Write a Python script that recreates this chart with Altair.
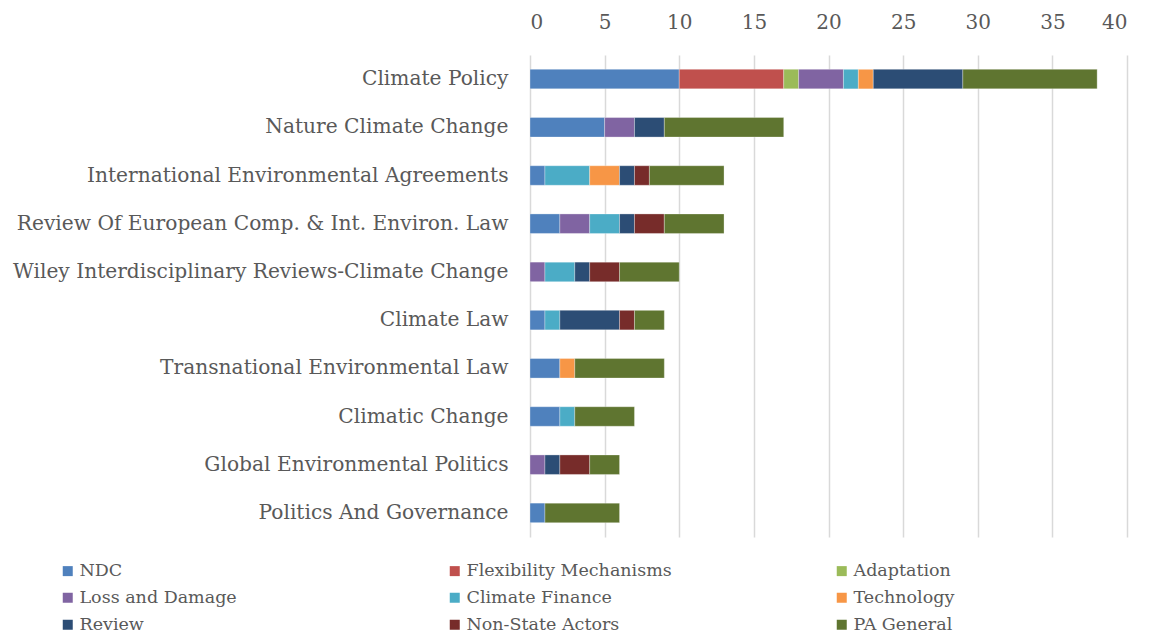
import altair as alt
import pandas as pd

journals = [
    "Climate Policy",
    "Nature Climate Change",
    "International Environmental Agreements",
    "Review Of European Comp. & Int. Environ. Law",
    "Wiley Interdisciplinary Reviews-Climate Change",
    "Climate Law",
    "Transnational Environmental Law",
    "Climatic Change",
    "Global Environmental Politics",
    "Politics And Governance",
]
series = ["NDC", "Flexibility Mechanisms", "Adaptation", "Loss and Damage",
          "Climate Finance", "Technology", "Review", "Non-State Actors", "PA General"]
colors = ["#4F81BD", "#C0504D", "#9BBB59", "#8064A2", "#4BACC6",
          "#F79646", "#2C4D75", "#772C2A", "#5F7530"]

ndc =    [10, 5, 1, 2, 0, 1, 2, 2, 0, 1]
flex =   [7, 0, 0, 0, 0, 0, 0, 0, 0, 0]
adapt =  [1, 0, 0, 0, 0, 0, 0, 0, 0, 0]
lnd =    [3, 2, 0, 2, 1, 0, 0, 0, 1, 0]
cf =     [1, 0, 3, 2, 2, 1, 0, 1, 0, 0]
tech =   [1, 0, 2, 0, 0, 0, 1, 0, 0, 0]
review = [6, 2, 1, 1, 1, 4, 0, 0, 1, 0]
nsa =    [0, 0, 1, 2, 2, 1, 0, 0, 2, 0]
pa =     [9, 8, 5, 4, 4, 2, 6, 4, 2, 5]

values = [ndc, flex, adapt, lnd, cf, tech, review, nsa, pa]
rows = []
for si, (s, vals) in enumerate(zip(series, values)):
    for j, v in zip(journals, vals):
        if v > 0:
            rows.append({"journal": j, "series": s, "idx": si, "value": v})
df = pd.DataFrame(rows)

font = "DejaVu Serif"

chart = alt.Chart(df).mark_bar(stroke="white", strokeWidth=0.6, strokeOpacity=0.5).encode(
    x=alt.X("value:Q", stack="zero",
            scale=alt.Scale(domain=[0, 40], nice=False),
            axis=alt.Axis(orient="top", values=list(range(0, 41, 5)), title=None,
                          domain=False, ticks=False, labelFont=font, labelFontSize=20,
                          labelColor="#595959", labelPadding=23,
                          grid=True, gridColor="#D9D9D9", gridWidth=1.5)),
    y=alt.Y("journal:N", sort=journals, title=None,
            scale=alt.Scale(paddingInner=0.595, paddingOuter=0.2975),
            axis=alt.Axis(domain=False, ticks=False, labelFont=font, labelFontSize=20.2,
                          labelColor="#595959", labelPadding=22, labelLimit=600)),
    color=alt.Color("series:N", scale=alt.Scale(domain=series, range=colors),
                    legend=alt.Legend(orient="none", legendX=-471, legendY=507,
                                      columns=3, direction="horizontal",
                                      title=None, symbolType="square",
                                      symbolSize=100, symbolStrokeWidth=0,
                                      labelFont=font, labelFontSize=17.5,
                                      labelColor="#595959", labelOffset=3,
                                      labelLimit=400,
                                      gridAlign="all", columnPadding=161,
                                      rowPadding=8, padding=0)),
    order=alt.Order("idx:Q"),
).properties(
    width=597, height=482,
    autosize=alt.AutoSizeParams(type="none"),
    padding={"left": 522, "top": 47, "right": 14, "bottom": 96},
).configure_view(stroke=None)

chart.save("out.html", embed_options={"renderer": "svg", "actions": False})
